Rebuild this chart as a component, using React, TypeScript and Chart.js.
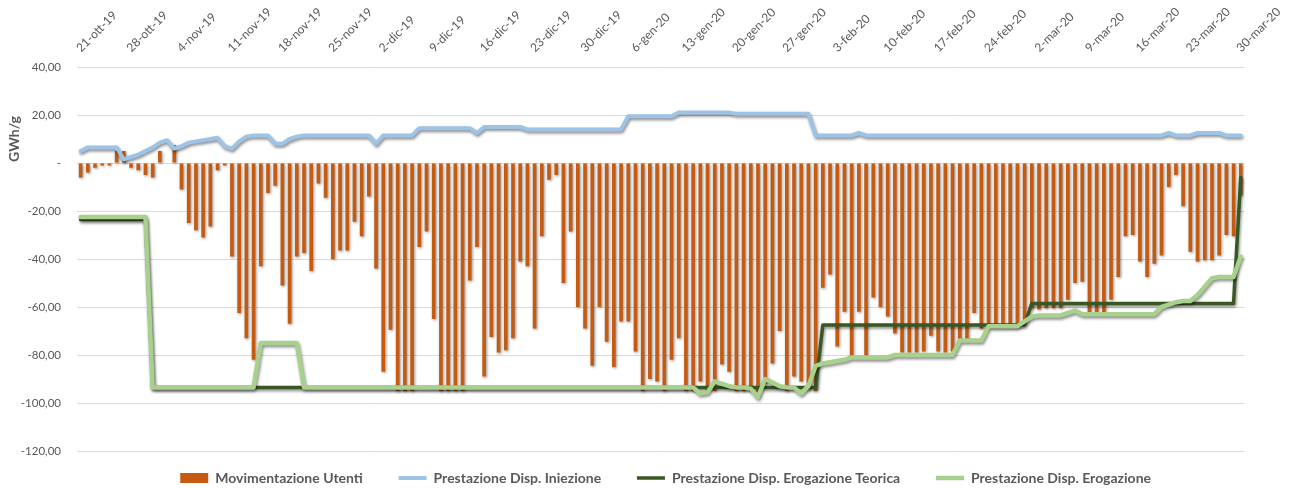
import React, { useEffect, useRef } from 'react';
import { Chart, registerables } from 'chart.js';

Chart.register(...registerables);

// ---------- DATA ----------
const MESI = ['gen', 'feb', 'mar', 'apr', 'mag', 'giu', 'lug', 'ago', 'set', 'ott', 'nov', 'dic'];

const tickLabels = [
  '21-ott-19', '28-ott-19', '4-nov-19', '11-nov-19', '18-nov-19', '25-nov-19', '2-dic-19', '9-dic-19',
  '16-dic-19', '23-dic-19', '30-dic-19', '6-gen-20', '13-gen-20', '20-gen-20', '27-gen-20', '3-feb-20',
  '10-feb-20', '17-feb-20', '24-feb-20', '2-mar-20', '9-mar-20', '16-mar-20', '23-mar-20', '30-mar-20',
];

const yTicks = [-120, -100, -80, -60, -40, -20, 0, 20, 40];

const seriesNames = [
  'Movimentazione Utenti',
  'Prestazione Disp. Iniezione',
  'Prestazione Disp. Erogazione Teorica',
  'Prestazione Disp. Erogazione',
];

const yAxisTitle = 'GWh/g';

const movimentazioneUtenti = [
  -6, -4, -2, -1, -1, 5, 5, -2, -3, -5,
  -6, 5, 0, 7.5, -11, -25, -28, -31, -26.5, -3,
  -1, -39, -62.5, -73, -82, -43, -12.5, -9.5, -51, -67,
  -39, -37.5, -45, -8.5, -14.5, -40, -36.5, -36.5, -24.5, -30.5,
  -14, -44, -87, -69.5, -95, -95, -95, -35, -28.5, -65,
  -95, -95, -95, -95, -49, -35, -89, -72.5, -79, -78,
  -73, -41, -43, -69, -30.5, -7, -5, -50, -28.5, -60,
  -69, -84.5, -60, -74.5, -85, -66, -66, -78.5, -95, -90,
  -91, -95, -82, -73, -95, -95, -91, -95, -95, -84,
  -87, -95, -95, -95, -97, -92, -83.5, -70, -95, -89,
  -91, -94, -95, -52, -46.5, -76.5, -62, -80.5, -62, -80.5,
  -56, -60, -64, -71, -79, -79, -79, -78.5, -72, -78.5,
  -79, -78.5, -74, -74, -62.5, -69, -68, -68, -68, -68,
  -68, -65.5, -60.5, -61, -60.5, -60.5, -60.5, -57, -50, -49.5,
  -62.5, -62.5, -62.5, -57, -47.5, -30.5, -30, -41, -47.5, -42,
  -38.5, -10, -5, -18, -37, -41, -40.5, -40.5, -38.5, -30,
  -30.5, -13.5,
];

const prestazioneIniezione = [
  5, 6.5, 6.5, 6.5, 6.5, 6.5, 1.5, 2.5, 3.5, 5,
  6.5, 8.5, 9.5, 6, 7, 8.5, 9, 9.5, 10, 10.5,
  7, 6, 9, 11, 11.5, 11.5, 11.5, 8, 8, 10,
  11, 11.5, 11.5, 11.5, 11.5, 11.5, 11.5, 11.5, 11.5, 11.5,
  11.5, 8, 11.5, 11.5, 11.5, 11.5, 11.5, 14.5, 14.5, 14.5,
  14.5, 14.5, 14.5, 14.5, 14.5, 12.5, 15, 15, 15, 15,
  15, 15, 14, 14, 14, 14, 14, 14, 14, 14,
  14, 14, 14, 14, 14, 14, 19.5, 19.5, 19.5, 19.5,
  19.5, 19.5, 19.5, 21, 21, 21, 21, 21, 21, 21,
  21, 20.5, 20.5, 20.5, 20.5, 20.5, 20.5, 20.5, 20.5, 20.5,
  20.5, 20.5, 11.5, 11.5, 11.5, 11.5, 11.5, 11.5, 12.5, 11.5,
  11.5, 11.5, 11.5, 11.5, 11.5, 11.5, 11.5, 11.5, 11.5, 11.5,
  11.5, 11.5, 11.5, 11.5, 11.5, 11.5, 11.5, 11.5, 11.5, 11.5,
  11.5, 11.5, 11.5, 11.5, 11.5, 11.5, 11.5, 11.5, 11.5, 11.5,
  11.5, 11.5, 11.5, 11.5, 11.5, 11.5, 11.5, 11.5, 11.5, 11.5,
  11.5, 12.5, 11.5, 11.5, 11.5, 12.5, 12.5, 12.5, 12.5, 11.5,
  11.5, 11.5,
];

const erogazioneTeorica = [
  -23.5, -23.5, -23.5, -23.5, -23.5, -23.5, -23.5, -23.5, -23.5, -23.5,
  -93.5, -93.5, -93.5, -93.5, -93.5, -93.5, -93.5, -93.5, -93.5, -93.5,
  -93.5, -93.5, -93.5, -93.5, -93.5, -93.5, -93.5, -93.5, -93.5, -93.5,
  -93.5, -93.5, -93.5, -93.5, -93.5, -93.5, -93.5, -93.5, -93.5, -93.5,
  -93.5, -93.5, -93.5, -93.5, -93.5, -93.5, -93.5, -93.5, -93.5, -93.5,
  -93.5, -93.5, -93.5, -93.5, -93.5, -93.5, -93.5, -93.5, -93.5, -93.5,
  -93.5, -93.5, -93.5, -93.5, -93.5, -93.5, -93.5, -93.5, -93.5, -93.5,
  -93.5, -93.5, -93.5, -93.5, -93.5, -93.5, -93.5, -93.5, -93.5, -93.5,
  -93.5, -93.5, -93.5, -93.5, -93.5, -93.5, -93.5, -93.5, -93.5, -93.5,
  -93.5, -93.5, -93.5, -93.5, -93.5, -93.5, -93.5, -93.5, -93.5, -93.5,
  -93.5, -93.5, -93.5, -67.5, -67.5, -67.5, -67.5, -67.5, -67.5, -67.5,
  -67.5, -67.5, -67.5, -67.5, -67.5, -67.5, -67.5, -67.5, -67.5, -67.5,
  -67.5, -67.5, -67.5, -67.5, -67.5, -67.5, -67.5, -67.5, -67.5, -67.5,
  -67.5, -67.5, -58.5, -58.5, -58.5, -58.5, -58.5, -58.5, -58.5, -58.5,
  -58.5, -58.5, -58.5, -58.5, -58.5, -58.5, -58.5, -58.5, -58.5, -58.5,
  -58.5, -58.5, -58.5, -58.5, -58.5, -58.5, -58.5, -58.5, -58.5, -58.5,
  -58.5, -6,
];

const erogazione = [
  -22.5, -22.5, -22.5, -22.5, -22.5, -22.5, -22.5, -22.5, -22.5, -22.5,
  -93.5, -93.5, -93.5, -93.5, -93.5, -93.5, -93.5, -93.5, -93.5, -93.5,
  -93.5, -93.5, -93.5, -93.5, -93.5, -75, -75, -75, -75, -75,
  -75, -93.5, -93.5, -93.5, -93.5, -93.5, -93.5, -93.5, -93.5, -93.5,
  -93.5, -93.5, -93.5, -93.5, -93.5, -93.5, -93.5, -93.5, -93.5, -93.5,
  -93.5, -93.5, -93.5, -93.5, -93.5, -93.5, -93.5, -93.5, -93.5, -93.5,
  -93.5, -93.5, -93.5, -93.5, -93.5, -93.5, -93.5, -93.5, -93.5, -93.5,
  -93.5, -93.5, -93.5, -93.5, -93.5, -93.5, -93.5, -93.5, -93.5, -93.5,
  -93.5, -93.5, -93.5, -93.5, -93.5, -93.5, -96, -95.5, -91, -92,
  -93, -93.5, -93.5, -94, -97.5, -90, -91.5, -93, -93.5, -93.5,
  -96, -93, -84.5, -83.5, -83, -82.5, -82, -81, -81, -81,
  -81, -81, -81, -80, -80, -80, -80, -80, -80, -80,
  -80, -80, -74, -74, -74, -74, -68, -68, -68, -68,
  -68, -66, -64, -63.5, -63.5, -63.5, -63.5, -62.5, -61.5, -63,
  -63, -63, -63, -63, -63, -63, -63, -63, -63, -63,
  -60, -59, -58, -57.5, -57.5, -55, -51.5, -48, -47.5, -47.5,
  -47.5, -39,
];

// daily categories, 21-ott-19 .. 30-mar-20
const categories: string[] = [];
{
  const d = new Date(2019, 9, 21);
  for (let i = 0; i < movimentazioneUtenti.length; i++) {
    categories.push(`${d.getDate()}-${MESI[d.getMonth()]}-${String(d.getFullYear()).slice(2)}`);
    d.setDate(d.getDate() + 1);
  }
}

// ---------- STYLE ----------
const COLORS = ['#C55A11', '#9DC3E6', '#385723', '#A9D18E'];
const LINE_W = [0, 4, 3.5, 4.5];
const TEXT = '#595959';
const FONT = 'Lato';

const shadowPlugin = {
  id: 'excelShadow',
  beforeDatasetDraw(chart: any, args: any) {
    const ctx = chart.ctx;
    ctx.save();
    ctx.shadowColor = 'rgba(0,0,0,0.45)';
    ctx.shadowBlur = 3;
    ctx.shadowOffsetX = 1;
    ctx.shadowOffsetY = args.index === 0 ? 1 : 2;
  },
  afterDatasetDraw(chart: any) {
    chart.ctx.restore();
  },
};

const yTitlePlugin = {
  id: 'yTitle',
  afterDraw(chart: any) {
    const ctx = chart.ctx;
    ctx.save();
    ctx.translate(14, 139);
    ctx.rotate(-Math.PI / 2);
    ctx.font = `bold 14px ${FONT}`;
    ctx.fillStyle = TEXT;
    ctx.textAlign = 'center';
    ctx.textBaseline = 'middle';
    ctx.fillText(yAxisTitle, 0, 0);
    ctx.restore();
  },
};

// centre the legend under the plot area (as in the original)
const legendShiftPlugin = {
  id: 'legendShift',
  afterLayout(chart: any) {
    const l = chart.legend;
    if (l) {
      l.left += 44;
      l.right += 44;
    }
  },
};

export default function App() {
  const ref = useRef<HTMLCanvasElement>(null);

  useEffect(() => {
    document.body.style.margin = '0';
    document.body.style.overflow = 'hidden';
    Chart.defaults.font.family = FONT;

    const lineDs = (idx: number, data: number[], order: number) => ({
      type: 'line' as const,
      label: seriesNames[idx],
      data,
      borderColor: COLORS[idx],
      backgroundColor: COLORS[idx],
      borderWidth: LINE_W[idx],
      pointRadius: 0,
      pointHoverRadius: 0,
      pointBorderWidth: LINE_W[idx],
      pointBorderColor: COLORS[idx],
      pointStyle: 'line',
      tension: 0,
      borderJoinStyle: 'round' as const,
      borderCapStyle: 'round' as const,
      fill: false,
      order,
    });

    const chart = new Chart(ref.current!, {
      type: 'bar',
      data: {
        labels: categories,
        datasets: [
          {
            type: 'bar',
            label: seriesNames[0],
            data: movimentazioneUtenti,
            backgroundColor: COLORS[0],
            borderWidth: 0,
            barPercentage: 0.5,
            categoryPercentage: 1,
            pointStyle: 'rect',
            order: 3,
          } as any,
          lineDs(1, prestazioneIniezione, 2),
          lineDs(2, erogazioneTeorica, 1),
          lineDs(3, erogazione, 0),
        ],
      },
      options: {
        responsive: false,
        animation: false,
        devicePixelRatio: 1,
        layout: { padding: { left: 14, right: 48, top: 0, bottom: 0 } },
        plugins: {
          tooltip: { enabled: false },
          legend: {
            position: 'bottom',
            labels: {
              usePointStyle: true,
              pointStyleWidth: 28,
              boxHeight: 10,
              padding: 20,
              color: TEXT,
              font: { family: FONT, size: 14, weight: 'bold' },
              sort: (a: any, b: any) => a.datasetIndex - b.datasetIndex,
              generateLabels: (c: any) => {
                const items = Chart.defaults.plugins.legend.labels.generateLabels(c);
                return items.map((it: any) => {
                  const i = it.datasetIndex;
                  return {
                    ...it,
                    text: it.text + '\u2002\u2002\u2009',
                    pointStyle: i === 0 ? 'rect' : 'line',
                    fillStyle: COLORS[i],
                    strokeStyle: COLORS[i],
                    lineWidth: LINE_W[i],
                  };
                });
              },
            },
          },
        },
        scales: {
          x: {
            position: 'top',
            offset: true,
            grid: { display: false, drawTicks: false },
            border: { display: false },
            ticks: {
              autoSkip: false,
              minRotation: 45,
              maxRotation: 45,
              padding: 12,
              labelOffset: 8,
              color: TEXT,
              font: { family: FONT, size: 12 },
              callback: (_v: any, i: number) => (tickLabels.includes(categories[i]) ? categories[i] : null),
            },
            afterFit: (s: any) => {
              s.height = 67;
            },
          },
          y: {
            min: yTicks[0],
            max: yTicks[yTicks.length - 1],
            grid: { color: '#D9D9D9', lineWidth: 1, drawTicks: false },
            border: { display: false },
            ticks: {
              stepSize: 20,
              padding: 16,
              color: TEXT,
              font: { family: FONT, size: 11.5 },
              callback: (v: any) => (Number(v) === 0 ? '-' : Number(v).toFixed(2).replace('.', ',')),
            },
            afterFit: (s: any) => {
              s.width = 63;
            },
          },
        },
      } as any,
      plugins: [shadowPlugin, yTitlePlugin, legendShiftPlugin],
    });

    return () => chart.destroy();
  }, []);

  return (
    <div style={{ width: 1293, height: 488, overflow: 'hidden', background: '#ffffff' }}>
      <canvas ref={ref} width={1293} height={495} style={{ display: 'block' }} />
    </div>
  );
}
